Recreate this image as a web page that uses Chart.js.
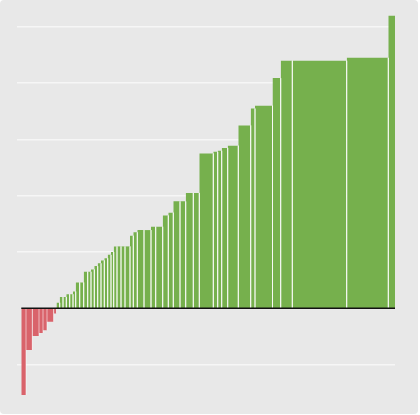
<!DOCTYPE html>
<html>
<head>
<meta charset="utf-8">
<script src="https://cdn.jsdelivr.net/npm/chart.js@4.4.1/dist/chart.umd.min.js"></script>
<style>
  html, body { margin: 0; padding: 0; background: #ffffff; }
  #panel { width: 418px; height: 414px; background: #e8e8e8; border-radius: 4px; position: relative; }
</style>
</head>
<body>
<div id="panel"><canvas id="chart"></canvas></div>
<script>
// Ancho de cada barra (peso) y su valor, ordenados de menor a mayor
const widths = [
  4.7, 6.3, 6.7, 4.0, 4.0, 6.7, 2.8,
  3.2, 3.3, 3.3, 3.4, 3.3, 2.7, 4.0, 4.0, 4.0, 3.3, 3.3, 3.4, 3.3, 3.3, 3.4, 3.3, 2.7,
  3.3, 4.0, 4.0, 5.0, 3.3, 4.0, 6.7, 7.0, 4.7, 7.0, 5.6, 5.0, 6.7, 5.7, 7.6, 6.0,
  14.0, 4.4, 4.0, 6.0, 10.6, 12.4, 4.3, 17.5, 8.2, 11.6, 54.4, 41.6, 6.7
];
const values = [
  -15.4, -7.4, -4.9, -4.4, -3.9, -2.4, -0.9,
  1.0, 2.0, 2.0, 2.5, 2.5, 3.0, 4.6, 4.6, 6.5, 6.5, 6.9, 7.5, 8.0, 8.5, 8.9, 9.5, 10.0,
  11.0, 11.0, 11.0, 11.0, 12.9, 13.5, 13.9, 13.9, 14.5, 14.5, 16.5, 17.0, 19.0, 19.0, 20.5, 20.5,
  27.5, 27.8, 28.0, 28.5, 28.9, 32.5, 35.5, 36.0, 40.9, 44.0, 44.0, 44.5, 52.0
];
const yTicks = [-10, 0, 10, 20, 30, 40, 50];

const positiveColor = '#76b04d';
const negativeColor = '#d9636b';
const gapColor = 'rgba(255,255,255,0.55)';

const total = widths.reduce((a, b) => a + b, 0);

// Cada barra es un rectangulo (linea cerrada con relleno hasta el eje)
const datasets = [];

// Linea del cero, primero para que quede encima
datasets.push({
  data: [{ x: 0, y: 0 }, { x: total, y: 0 }],
  borderColor: '#111111',
  borderWidth: 1.5,
  pointRadius: 0,
  fill: false
});

let start = 0;
widths.forEach((w, i) => {
  const end = start + w;
  const v = values[i];
  const isLast = i === widths.length - 1;
  datasets.push({
    data: [
      { x: start, y: 0 },
      { x: start, y: v },
      { x: end, y: v },
      { x: end, y: 0 }
    ],
    backgroundColor: v < 0 ? negativeColor : positiveColor,
    borderWidth: 1,
    borderColor: 'rgba(0,0,0,0)',
    segment: {
      // solo el borde derecho separa una barra de la siguiente
      borderColor: ctx => (ctx.p0DataIndex === 2 && !isLast) ? gapColor : 'rgba(0,0,0,0)'
    },
    pointRadius: 0,
    tension: 0,
    fill: 'origin'
  });
  start = end;
});

const ctx = document.getElementById('chart').getContext('2d');
new Chart(ctx, {
  type: 'line',
  data: { datasets: datasets },
  options: {
    responsive: true,
    maintainAspectRatio: false,
    animation: false,
    events: [],
    layout: { padding: { left: 17, right: 23, top: 10, bottom: 10 } },
    plugins: {
      legend: { display: false },
      tooltip: { enabled: false }
    },
    scales: {
      x: {
        type: 'linear',
        min: -4.3,
        max: total,
        display: false
      },
      y: {
        type: 'linear',
        min: -17,
        max: 53,
        afterBuildTicks: scale => { scale.ticks = yTicks.map(v => ({ value: v })); },
        ticks: { display: false },
        border: { display: false },
        grid: {
          drawTicks: false,
          lineWidth: 1.5,
          color: c => c.tick && c.tick.value !== 0 ? '#f6f6f6' : 'rgba(0,0,0,0)'
        }
      }
    }
  }
});
</script>
</body>
</html>
